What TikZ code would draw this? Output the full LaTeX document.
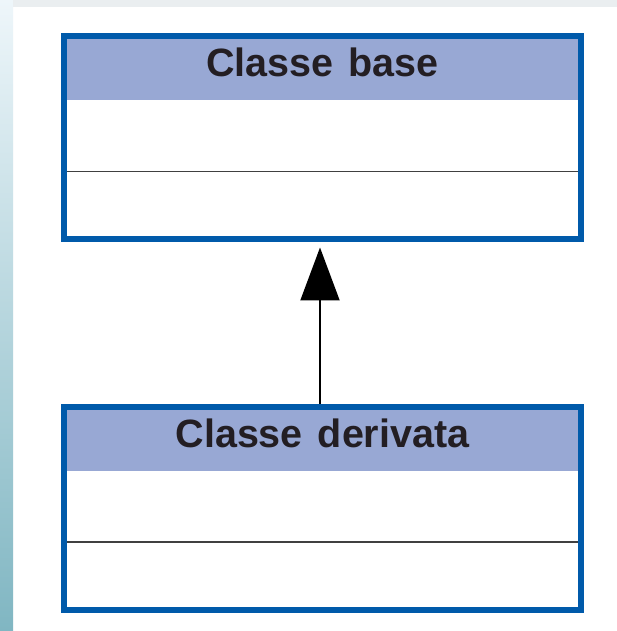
\documentclass[tikz,border=0pt]{standalone}
\usepackage{fontspec}
\newfontfamily\classfont{Liberation Sans}
\usetikzlibrary{arrows.meta}

\definecolor{umlblue}{RGB}{0,90,170}
\definecolor{headblue}{RGB}{152,168,212}
\definecolor{namegray}{RGB}{35,30,35}
\definecolor{stripTop}{RGB}{238,246,250}
\definecolor{stripBot}{RGB}{128,182,194}
\definecolor{topStrip}{RGB}{234,238,240}

\newcommand{\classnamefont}{\classfont\bfseries\fontsize{39.5bp}{40bp}\selectfont\spaceskip 15bp\relax}

\tikzset{
  classbox/.style={draw=umlblue,line width=6bp,line join=miter,minimum width=517bp,minimum height=203bp,inner sep=0pt,
    path picture={
      \fill[headblue] (path picture bounding box.north west) rectangle ([yshift=-64bp]path picture bounding box.north east);
      \draw[black!75,line width=1.8bp] ([yshift=-135bp]path picture bounding box.north west) -- ([yshift=-135bp]path picture bounding box.north east);
    }},
  classname/.style={anchor=base,text=namegray,font=\classnamefont},
}

\begin{document}
\begin{tikzpicture}[>=latex,line join=bevel,]
\useasboundingbox (0bp,0bp) rectangle (617bp,631bp);
%%
\fill[white] (0bp,0bp) rectangle (617bp,631bp);
\shade[top color=stripTop,bottom color=stripBot] (0bp,0bp) rectangle (13bp,631bp);
\fill[topStrip] (13bp,624bp) rectangle (617bp,631bp);
%
\node (base) at (322.5bp,493bp) [classbox] {};
  \node (base_name) at ([yshift=-43.5bp]base.north) [classname] {Classe base};
\node (derivata) at (322.5bp,122.5bp) [classbox] {};
  \node (derivata_name) at ([yshift=-43.5bp]derivata.north) [classname] {Classe derivata};
  \draw [black,line width=2bp,-{Triangle[width=39bp,length=53bp]},shorten >=5bp] ([xshift=-2.5bp]derivata.north) -- ([xshift=-2.5bp]base.south);
%
\end{tikzpicture}
\end{document}
